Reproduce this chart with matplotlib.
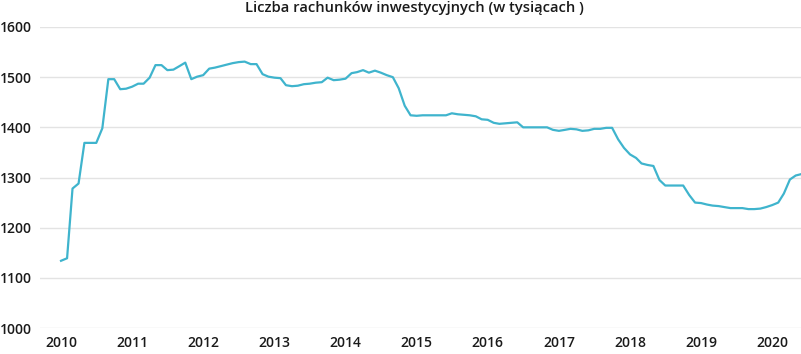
import matplotlib
matplotlib.use("Agg")
import matplotlib.pyplot as plt
import matplotlib.dates as mdates
import pandas as pd

title = "Liczba rachunków inwestycyjnych (w tysiącach )"

# monthly values, Jan 2010 onwards (thousands of accounts)
values = [
    1134, 1139, 1278, 1288, 1369, 1369, 1369, 1398, 1496, 1496, 1476, 1477,  # 2010
    1481, 1487, 1487, 1499, 1524, 1524, 1514, 1515, 1522, 1529, 1496, 1501,  # 2011
    1504, 1517, 1519, 1522, 1525, 1528, 1530, 1531, 1526, 1526, 1506, 1501,  # 2012
    1499, 1498, 1484, 1482, 1483, 1486, 1487, 1489, 1490, 1499, 1494, 1495,  # 2013
    1497, 1508, 1510, 1514, 1509, 1513, 1509, 1504, 1500, 1478, 1443, 1424,  # 2014
    1423, 1424, 1424, 1424, 1424, 1424, 1428, 1426, 1425, 1424, 1422, 1416,  # 2015
    1415, 1409, 1407, 1408, 1409, 1410, 1400, 1400, 1400, 1400, 1400, 1395,  # 2016
    1393, 1395, 1397, 1396, 1393, 1394, 1397, 1397, 1399, 1399, 1376, 1359,  # 2017
    1346, 1339, 1328, 1325, 1323, 1295, 1284, 1284, 1284, 1284, 1265, 1250,  # 2018
    1249, 1246, 1244, 1243, 1241, 1239, 1239, 1239, 1237, 1237, 1238, 1241,  # 2019
    1245, 1250, 1268, 1296, 1304, 1307,                                      # 2020
]
dates = pd.date_range("2010-01-01", periods=len(values), freq="MS")

y_ticks = [1000, 1100, 1200, 1300, 1400, 1500, 1600]

line_color = "#3fb4cd"
grid_color = "#e3e3e3"
text_color = "#1a1a1a"
font = ["Open Sans", "DejaVu Sans"]

W, H = 801, 354
fig = plt.figure(figsize=(W / 100, H / 100), dpi=100)
ax = fig.add_axes([40 / W, (H - 328) / H, (W - 40) / W, (328 - 27) / H])

ax.plot(dates, values, color=line_color, lw=1.6, solid_joinstyle="round", zorder=3)

ax.set_ylim(1000, 1600)
ax.set_yticks(y_ticks)
ax.set_xlim(pd.Timestamp("2009-09-15"), pd.Timestamp("2020-05-28"))
ax.xaxis.set_major_locator(mdates.YearLocator())
ax.xaxis.set_major_formatter(mdates.DateFormatter("%Y"))

ax.grid(axis="y", color=grid_color, lw=1.0)
ax.grid(axis="x", visible=False)
for s in ax.spines.values():
    s.set_visible(False)

ax.tick_params(axis="both", length=0, colors=text_color, labelsize=10)
ax.tick_params(axis="y", pad=28.8)
ax.tick_params(axis="x", pad=6)
for lab in ax.get_yticklabels():
    lab.set_horizontalalignment("left")
    lab.set_fontfamily(font)
    lab.set_fontweight(600)
for lab in ax.get_xticklabels():
    lab.set_fontfamily(font)
    lab.set_fontweight(600)

fig.text(414 / W, 1 - 8 / H, title, ha="center", va="center", fontsize=10.6,
         family=font, fontweight=600, color=text_color)

fig.savefig("out.png", dpi=100)
